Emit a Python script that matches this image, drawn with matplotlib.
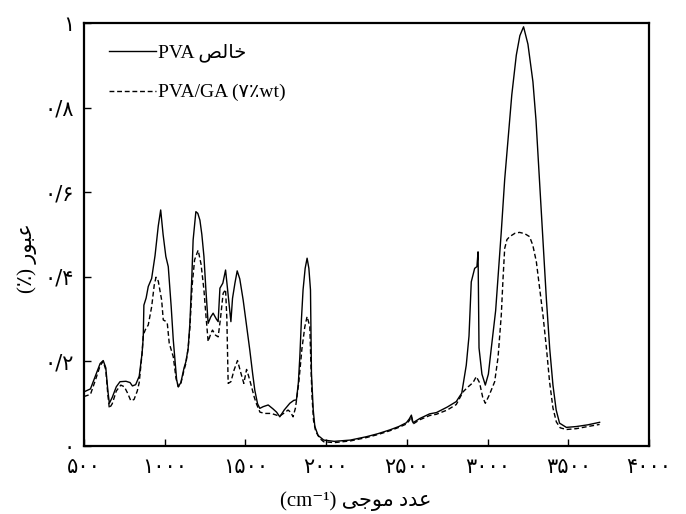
import matplotlib
matplotlib.use("Agg")
import matplotlib.pyplot as plt

# ---- data ----
pva_wn = [500, 540, 570, 600, 619, 635, 648, 657, 675, 700, 723, 760, 785, 800, 820, 842, 860, 867, 871, 885,
          898, 919, 940, 960, 975, 990, 1007, 1022, 1040, 1053, 1074, 1084, 1100, 1120, 1131, 1145, 1156, 1168,
          1176, 1193, 1205, 1218, 1230, 1243, 1255, 1269, 1285, 1300, 1320, 1331, 1342, 1360, 1377, 1395, 1410,
          1420, 1435, 1449, 1465, 1486, 1505, 1527, 1545, 1558, 1575, 1589, 1610, 1641, 1670, 1693, 1713, 1740,
          1775, 1800, 1816, 1828, 1837, 1847, 1857, 1870, 1882, 1893, 1903, 1909, 1920, 1930, 1950, 1985, 2050,
          2150, 2250, 2320, 2394, 2450, 2497, 2515, 2528, 2538, 2580, 2641, 2683, 2750, 2806, 2840, 2868, 2885,
          2899, 2920, 2934, 2941, 2947, 2965, 2986, 3005, 3023, 3050, 3085, 3106, 3126, 3150, 3178, 3200, 3223,
          3250, 3281, 3300, 3322, 3345, 3364, 3385, 3405, 3425, 3446, 3488, 3550, 3620, 3694]
pva_t = [0.128, 0.135, 0.165, 0.195, 0.202, 0.185, 0.130, 0.101, 0.115, 0.140, 0.152, 0.153, 0.150, 0.142, 0.145,
         0.165, 0.220, 0.257, 0.333, 0.350, 0.377, 0.396, 0.450, 0.520, 0.558, 0.500, 0.448, 0.424, 0.330, 0.251,
         0.156, 0.140, 0.150, 0.185, 0.199, 0.230, 0.290, 0.400, 0.487, 0.554, 0.550, 0.534, 0.500, 0.448, 0.370,
         0.290, 0.305, 0.314, 0.300, 0.294, 0.373, 0.385, 0.416, 0.350, 0.294, 0.349, 0.385, 0.414, 0.395, 0.345,
         0.290, 0.227, 0.170, 0.132, 0.100, 0.089, 0.093, 0.097, 0.088, 0.080, 0.069, 0.085, 0.101, 0.108, 0.109,
         0.150, 0.211, 0.300, 0.369, 0.420, 0.444, 0.420, 0.369, 0.172, 0.085, 0.046, 0.025, 0.014, 0.011, 0.014,
         0.022, 0.029, 0.038, 0.046, 0.055, 0.064, 0.073, 0.055, 0.065, 0.076, 0.079, 0.092, 0.105, 0.125, 0.191,
         0.260, 0.388, 0.420, 0.424, 0.459, 0.232, 0.170, 0.144, 0.170, 0.231, 0.320, 0.507, 0.630, 0.720, 0.830,
         0.924, 0.970, 0.991, 0.950, 0.861, 0.770, 0.625, 0.470, 0.349, 0.230, 0.144, 0.085, 0.054, 0.044, 0.046,
         0.050, 0.056]

ga_wn = [500, 540, 570, 600, 619, 635, 648, 657, 675, 700, 728, 750, 770, 790, 810, 830, 842, 860, 867, 880, 898,
         919, 935, 946, 960, 981, 991, 1005, 1016, 1028, 1053, 1070, 1084, 1100, 1120, 1131, 1145, 1156, 1170, 1185,
         1207, 1225, 1243, 1255, 1269, 1285, 1296, 1315, 1331, 1345, 1362, 1377, 1385, 1393, 1410, 1430, 1451, 1470,
         1490, 1507, 1520, 1538, 1555, 1569, 1590, 1620, 1660, 1700, 1713, 1740, 1764, 1780, 1795, 1810, 1830, 1850,
         1868, 1882, 1899, 1905, 1912, 1922, 1935, 1960, 1985, 2050, 2150, 2250, 2320, 2394, 2450, 2497, 2515, 2528,
         2538, 2580, 2641, 2683, 2750, 2806, 2848, 2880, 2910, 2930, 2950, 2970, 2986, 3010, 3044, 3065, 3085, 3095,
         3106, 3120, 3137, 3170, 3198, 3230, 3260, 3280, 3302, 3320, 3343, 3365, 3384, 3405, 3426, 3450, 3488, 3550,
         3620, 3694]
ga_t = [0.117, 0.122, 0.155, 0.190, 0.200, 0.180, 0.120, 0.089, 0.100, 0.130, 0.144, 0.140, 0.125, 0.107, 0.110,
        0.130, 0.150, 0.220, 0.262, 0.275, 0.286, 0.329, 0.380, 0.399, 0.390, 0.345, 0.298, 0.295, 0.290, 0.243,
        0.211, 0.160, 0.140, 0.148, 0.180, 0.195, 0.230, 0.280, 0.380, 0.440, 0.463, 0.430, 0.369, 0.310, 0.247,
        0.265, 0.274, 0.262, 0.258, 0.300, 0.361, 0.370, 0.300, 0.148, 0.152, 0.180, 0.202, 0.175, 0.148, 0.181,
        0.165, 0.140, 0.115, 0.099, 0.080, 0.077, 0.077, 0.072, 0.071, 0.078, 0.085, 0.080, 0.069, 0.090, 0.148,
        0.230, 0.282, 0.306, 0.282, 0.200, 0.120, 0.060, 0.035, 0.018, 0.010, 0.008, 0.012, 0.020, 0.027, 0.036,
        0.044, 0.052, 0.060, 0.070, 0.052, 0.062, 0.072, 0.075, 0.085, 0.098, 0.128, 0.140, 0.150, 0.164, 0.150,
        0.115, 0.101, 0.120, 0.152, 0.210, 0.310, 0.390, 0.467, 0.488, 0.495, 0.503, 0.505, 0.502, 0.495, 0.475,
        0.436, 0.380, 0.310, 0.230, 0.152, 0.090, 0.057, 0.043, 0.039, 0.041, 0.046, 0.051]

x_ticks = [500, 1000, 1500, 2000, 2500, 3000, 3500, 4000]
x_ticklabels = ["۵۰۰", "۱۰۰۰", "۱۵۰۰", "۲۰۰۰", "۲۵۰۰", "۳۰۰۰", "۳۵۰۰", "۴۰۰۰"]
y_ticks = [0, 0.2, 0.4, 0.6, 0.8, 1.0]
y_ticklabels = ["۰", "۰/۲", "۰/۴", "۰/۶", "۰/۸", "۱"]

# Persian words written in shaped presentation forms, visual (left-to-right) order
label_pva = "PVA " + "\uFEBA\uFEDF\uFE8E\uFEA7"             # PVA خالص
label_ga = "PVA/GA (۷٪wt)"
xlabel_text = "(cm\u207B\u00B9) " + "\uFEF0\uFE9F\uFEEE\uFEE3" + " " + "\uFEA9\uFEAA\uFECB"   # عدد موجی (cm-1)
ylabel_text = "(٪) " + "\uFEAD\uFEEE\uFE92\uFECB"          # عبور (٪)

FAM = ["Liberation Serif", "DejaVu Sans"]

fig = plt.figure(figsize=(6.86, 5.14), dpi=100)
ax = fig.add_axes([84 / 686, 1 - 446 / 514, 565 / 686, 423 / 514])

ax.plot(pva_wn, pva_t, color="black", lw=1.0, ls="-", label=label_pva)
ax.plot(ga_wn, ga_t, color="black", lw=1.0, ls=(0, (3.5, 2)), label=label_ga)

ax.set_xlim(500, 4000)
ax.set_ylim(0, 1.0)
ax.set_xticks(x_ticks)
ax.set_xticklabels(x_ticklabels, family=["DejaVu Sans"], fontsize=15)
ax.set_yticks(y_ticks)
ax.set_yticklabels(y_ticklabels, family=["DejaVu Sans"], fontsize=15)
ax.tick_params(axis="x", direction="in", length=5, width=1, pad=8, top=False)
ax.tick_params(axis="y", direction="in", length=5, width=1, pad=7, right=False)

for s in ax.spines.values():
    s.set_linewidth(1.6)

ax.set_xlabel(xlabel_text, family=FAM, fontsize=15)
ax.xaxis.set_label_coords(0.481, -0.106)
ax.set_ylabel(ylabel_text, family=FAM, fontsize=15)
ax.yaxis.set_label_coords(-0.083, 0.444)

leg = ax.legend(loc="upper left", bbox_to_anchor=(0.045, 0.951), frameon=False,
                handlelength=2.4, handletextpad=0.1, labelspacing=1.1,
                borderaxespad=0, borderpad=0, prop={"family": FAM, "size": 14})

fig.savefig("out.png", dpi=100)
